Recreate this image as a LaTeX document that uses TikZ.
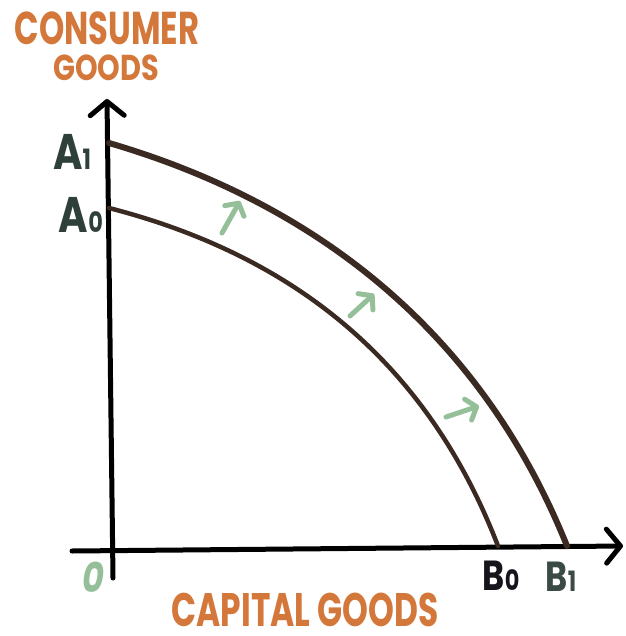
\documentclass[tikz,border=0pt]{standalone}
\usepackage{fontspec}
\setmainfont{Poppins}
\usetikzlibrary{arrows.meta}
\definecolor{handorange}{HTML}{D4773A}
\definecolor{curvebrown}{HTML}{3B2A22}
\definecolor{softgreen}{HTML}{94BF98}
\definecolor{slategreen}{HTML}{2F3F3A}
\definecolor{grayblue}{HTML}{3A4A44}
\definecolor{inkblack}{HTML}{15151B}
\newcommand\handtext[3]{\scalebox{#1}[1]{\fontsize{#2}{#2}\selectfont\bfseries #3}}
\tikzset{
  axisline/.style={line width=5pt, line cap=round, line join=round, draw=black,
    -{Straight Barb[length=14pt,width=34pt,line width=5pt,round]}},
  frontier/.style={line width=5pt, draw=curvebrown, line cap=round},
  shiftarrow/.style={line width=5pt, draw=softgreen, line cap=round,
    -{Straight Barb[length=9pt,width=22pt,line width=5pt,round]}},
  title/.style={text=handorange, anchor=base, inner sep=0pt},
  pointlabel/.style={anchor=base, inner sep=0pt}
}
\begin{document}
\begin{tikzpicture}[x=1pt,y=-1pt]
\useasboundingbox (0,0) rectangle (625,636);
% axes
\coordinate (ybot) at (113,578);
\coordinate (ytop) at (107,99);
\coordinate (xleft) at (72,551);
\coordinate (xright) at (623,546);
\draw[axisline] (ybot) -- (ytop);
\draw[axisline] (xleft) -- (xright);
% frontiers
\coordinate (A1) at (109,143);
\coordinate (A1c) at (304,200);
\coordinate (B1c) at (477,322);
\coordinate (B1) at (567,546);
\coordinate (A0) at (109,208);
\coordinate (A0c) at (264,248);
\coordinate (B0c) at (418,338);
\coordinate (B0) at (498,546);
\draw[frontier, line width=6pt] (A1) .. controls (A1c) and (B1c) .. (B1);
\draw[frontier, line width=4.5pt] (A0) .. controls (A0c) and (B0c) .. (B0);
% shift arrows
\coordinate (s1a) at (222,233);
\coordinate (s1b) at (240,201);
\coordinate (s2a) at (350,316);
\coordinate (s2b) at (374,294);
\coordinate (s3a) at (446,417);
\coordinate (s3b) at (479,406);
\draw[shiftarrow] (s1a) -- (s1b);
\draw[shiftarrow] (s2a) -- (s2b);
\draw[shiftarrow] (s3a) -- (s3b);
% titles
\node[title] (cons) at (107,45) {\handtext{0.7}{46pt}{CONSUMER}};
\node[title] (goods) at (106,81) {\handtext{0.8}{36pt}{GOODS}};
\node[title] (capital) at (305,626) {\handtext{0.7}{47pt}{CAPITAL GOODS}};
% point labels
\node[pointlabel, text=slategreen] (lA1) at (72,170) {\handtext{0.8}{50pt}{A}\handtext{0.8}{28pt}{1}};
\node[pointlabel, text=slategreen] (lA0) at (81,232) {\handtext{0.8}{50pt}{A}\handtext{0.8}{28pt}{0}};
\node[pointlabel, text=softgreen] (lO) at (93,592) {\handtext{0.8}{42pt}{\itshape 0}};
\node[pointlabel, text=inkblack] (lB0) at (501,590) {\handtext{0.8}{42pt}{B}\handtext{0.8}{28pt}{0}};
\node[pointlabel, text=grayblue] (lB1) at (561,591) {\handtext{0.8}{42pt}{B}\handtext{0.8}{28pt}{1}};
\end{tikzpicture}
\end{document}
